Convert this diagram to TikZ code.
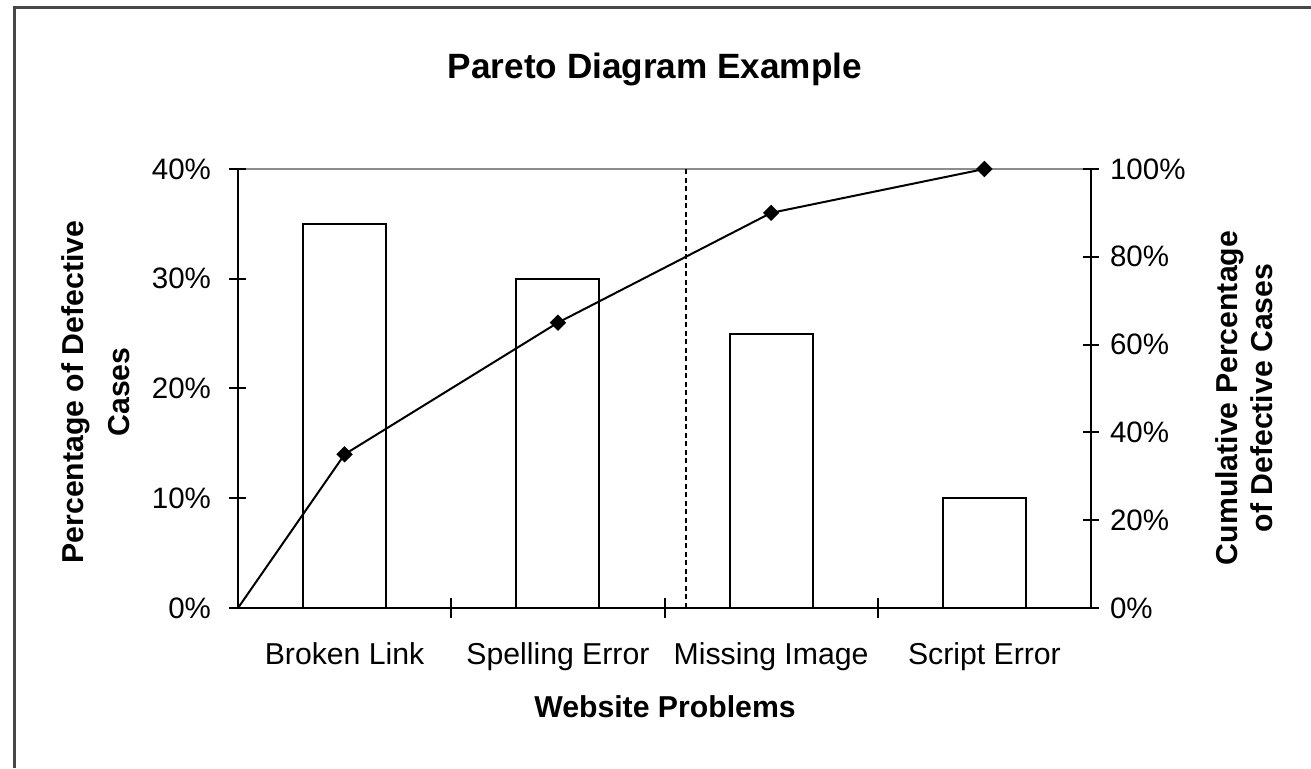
\documentclass[tikz,border=0pt]{standalone}
\usepackage{fontspec}
\setmainfont{Liberation Sans}
\usetikzlibrary{shapes.geometric}

\tikzset{
  frameline/.style={line width=0.03cm, draw=black!72},
  plotaxis/.style={line width=0.02cm},
  gridtop/.style={line width=0.018cm, draw=black!45},
  barbox/.style={draw, line width=0.02cm, fill=white},
  cumline/.style={line width=0.02cm},
  cutline/.style={line width=0.022cm, dash pattern=on 0.05cm off 0.035cm},
  cummark/.style={diamond, fill=black, inner sep=0pt, minimum size=0.17cm},
  ticklabel/.style={font=\fontsize{8.4}{10}\selectfont, inner sep=0pt},
  catlabel/.style={font=\fontsize{8.6}{10}\selectfont, inner sep=0pt, anchor=base},
  axistitle/.style={font=\fontsize{8.6}{10}\selectfont\bfseries, inner sep=0pt, align=center},
}

\begin{document}
\begin{tikzpicture}
\useasboundingbox (0,0) rectangle (13.11,7.68);

% Chart frame (left and top edges)
\draw [frameline] (0.14,0) -- (0.14,7.60) -- (13.11,7.60);

% Title
\node (title) at (6.55,6.98) [font=\fontsize{10}{12}\selectfont\bfseries] {Pareto Diagram Example};

% Corners of the plot area
\coordinate (O) at (2.38,1.60);
\coordinate (L) at (2.38,5.99);
\coordinate (R) at (10.91,5.99);
\coordinate (E) at (10.91,1.60);

% Line at 40% / 100%
\draw [gridtop] (L) -- (R);

% Bars (percentage of defective cases)
\foreach \cx/\top in {3.446/5.441, 5.579/4.893, 7.711/4.344, 9.844/2.698}
  \draw [barbox] (\cx-0.415,1.60) rectangle (\cx+0.415,\top);

% 80% cut-off line
\coordinate (cutbot) at (6.86,1.60);
\coordinate (cuttop) at (6.86,5.99);
\draw [cutline] (cutbot) -- (cuttop);

% Axes
\draw [plotaxis] (L) -- (O) -- (E) -- (R);

% Left axis ticks and labels
\foreach \y/\lab [count=\i] in {1.60/0, 2.6975/10, 3.795/20, 4.8925/30, 5.99/40}
  \draw [plotaxis] (2.29,\y) -- (2.46,\y)
    (2.12,\y) node [ticklabel, anchor=east] (lt\i) {\lab\%};

% Right axis ticks and labels
\foreach \y/\lab [count=\i] in {1.60/0, 2.478/20, 3.356/40, 4.234/60, 5.112/80, 5.99/100}
  \draw [plotaxis] (10.83,\y) -- (10.99,\y)
    (11.09,\y) node [ticklabel, anchor=west] (rt\i) {\lab\%};

% Category ticks
\foreach \x in {4.5125, 6.645, 8.7775}
  \draw [plotaxis] (\x,1.50) -- (\x,1.70);

% Category labels
\node [catlabel] (bl) at (3.446,1.04) {Broken Link};
\node [catlabel] (se) at (5.579,1.04) {Spelling Error};
\node [catlabel] (mi) at (7.711,1.04) {Missing Image};
\node [catlabel] (sc) at (9.844,1.04) {Script Error};

% Axis titles
\node [axistitle] (xtitle) at (6.65,0.61) {Website Problems};
\node [axistitle, rotate=90] (ltitle) at (0.955,3.76) {Percentage of Defective\\[3pt]Cases};
\node [axistitle, rotate=90] (rtitle) at (12.445,3.70) {Cumulative Percentage\\of Defective Cases};

% Cumulative percentage curve
\node [cummark] (c1) at (3.446,3.1365) {};
\node [cummark] (c2) at (5.579,4.4535) {};
\node [cummark] (c3) at (7.711,5.551) {};
\node [cummark] (c4) at (9.844,5.99) {};
\draw [cumline] (O) -- (c1.center) -- (c2.center) -- (c3.center) -- (c4.center);
\end{tikzpicture}
\end{document}
